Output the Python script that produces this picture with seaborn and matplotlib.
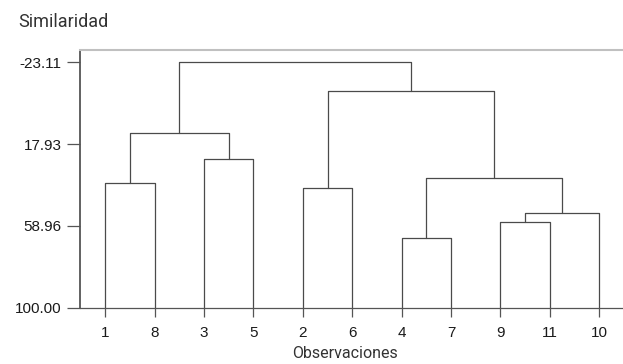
import matplotlib
matplotlib.use('Agg')
import matplotlib.pyplot as plt
import numpy as np
import pandas as pd
import seaborn as sns

# leaves in dendrogram order
leaf_labels = ['1', '8', '3', '5', '2', '6', '4', '7', '9', '11', '10']

# merges (clusters c1..c10 are created in this order)
merge_left = ['1', '3', 'c1', '2', '4', '9', 'c6', 'c5', 'c4', 'c3']
merge_right = ['8', '5', 'c2', '6', '7', '11', '10', 'c7', 'c8', 'c9']
merge_level = [37.6, 25.6, 12.2, 39.8, 65.0, 57.2, 52.6, 34.8, -8.9, -23.11]

y_ticks = [100.00, 58.96, 17.93, -23.11]
base_level = 100.00


def build_segments():
    pos = {lab: (float(i), base_level) for i, lab in enumerate(leaf_labels)}
    rows = []
    for k, (a, b, h) in enumerate(zip(merge_left, merge_right, merge_level)):
        xa, ya = pos[a]
        xb, yb = pos[b]
        for x, y in [(xa, ya), (xa, h), (xb, h), (xb, yb)]:
            rows.append({'seg': k, 'x': x, 'y': y})
        pos['c%d' % (k + 1)] = ((xa + xb) / 2, h)
    return pd.DataFrame(rows)


def main():
    sns.set_style('ticks')
    plt.rcParams['font.family'] = ['Liberation Sans', 'DejaVu Sans']

    fig = plt.figure(figsize=(6.23, 3.64), dpi=100)
    ax = fig.add_axes([0.1284, 0.1547, 0.8716, 0.7088])

    segs = build_segments()
    sns.lineplot(data=segs, x='x', y='y', units='seg', estimator=None, sort=False,
                 color='#4a4a4a', linewidth=0.9, ax=ax)

    ax.set_xlim(-0.51, 10.48)
    ax.set_ylim(base_level, -29.43)
    ax.set_xticks(range(len(leaf_labels)))
    ax.set_xticklabels(leaf_labels)
    ax.set_yticks(y_ticks)
    ax.set_yticklabels(['%.2f' % v for v in y_ticks])

    ax.tick_params(axis='y', length=9.4, width=0.9, color='#555555', pad=4,
                   labelsize=11, labelcolor='#1a1a1a')
    ax.tick_params(axis='x', length=6.5, width=0.9, color='#555555', pad=7,
                   labelsize=11, labelcolor='#1a1a1a')

    ax.spines['right'].set_visible(False)
    ax.spines['top'].set_color('#c0c0c0')
    ax.spines['top'].set_linewidth(1.5)
    ax.spines['left'].set_color('#555555')
    ax.spines['left'].set_linewidth(1.3)
    ax.spines['bottom'].set_color('#555555')
    ax.spines['bottom'].set_linewidth(0.9)

    ax.set_ylabel('')
    ax.set_xlabel('Observaciones', fontsize=11.5, color='#333333',
                  family=['Roboto', 'DejaVu Sans'])
    ax.xaxis.set_label_coords(0.488, -0.179)
    ax.xaxis.label.set_va('center')

    fig.text(0.029, 1 - 22 / 364, 'Similaridad', fontsize=13, color='#333333',
             va='center', ha='left', family=['Roboto', 'DejaVu Sans'])

    fig.savefig('out.png', dpi=100)


if __name__ == '__main__':
    main()
